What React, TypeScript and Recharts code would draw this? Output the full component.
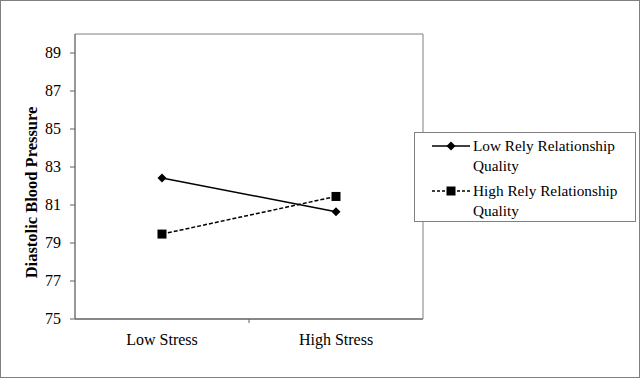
import React from 'react';
import { LineChart, Line, XAxis, YAxis, Legend } from 'recharts';

const categories = ['Low Stress', 'High Stress'];
const lowRely = [82.42, 80.65];
const highRely = [79.47, 81.45];
const yTicks = [75, 77, 79, 81, 83, 85, 87, 89];
const seriesOrder = ['lowRely', 'highRely'];

const data = categories.map((stress, i) => ({ stress, lowRely: lowRely[i], highRely: highRely[i] }));

const FONT = '"Liberation Serif", "Times New Roman", serif';
const AXIS = '#606060';
const textStyle = { fontFamily: FONT, fontSize: 16, fill: '#000' };

function Diamond({ cx, cy }: any) {
  if (cx == null || cy == null) return null;
  const r = 4.5;
  return <path d={`M${cx},${cy - r}L${cx + r},${cy}L${cx},${cy + r}L${cx - r},${cy}Z`} fill="#000" />;
}

function Square({ cx, cy }: any) {
  if (cx == null || cy == null) return null;
  const s = 9;
  return <rect x={cx - s / 2} y={cy - s / 2} width={s} height={s} fill="#000" />;
}

// category label plus a tick mark at the band edge, like the original
function CatTick(props: any) {
  const { x, y, payload, index } = props;
  const half = payload && payload.offset ? payload.offset : 87;
  return (
    <g>
      {index === 0 && <line x1={x + half} y1={y} x2={x + half} y2={y + 4} stroke={AXIS} />}
      <text x={x} y={y + 26} textAnchor="middle" style={textStyle}>
        {payload.value}
      </text>
    </g>
  );
}

function ValTick(props: any) {
  const { x, y, payload } = props;
  return (
    <text x={x} y={y + 5} textAnchor="end" style={textStyle}>
      {payload.value}
    </text>
  );
}

function YTitle({ viewBox }: any) {
  if (!viewBox) return null;
  const cx = viewBox.x + 31;
  const cy = viewBox.y + viewBox.height / 2 + 16;
  return (
    <text
      x={cx}
      y={cy}
      transform={`rotate(-90, ${cx}, ${cy})`}
      textAnchor="middle"
      dominantBaseline="central"
      style={{ fontFamily: FONT, fontSize: 16.5, fontWeight: 'bold', fill: '#000' }}
    >
      Diastolic Blood Pressure
    </text>
  );
}

function LegendBox({ payload }: any) {
  const items = [...(payload || [])].sort(
    (a: any, b: any) => seriesOrder.indexOf(a.dataKey) - seriesOrder.indexOf(b.dataKey)
  );
  return (
    <div
      style={{
        border: '1px solid #808080',
        background: '#fff',
        width: 222,
        height: 90,
        boxSizing: 'border-box',
        padding: '3px 0 0 17px',
        fontFamily: FONT,
        fontSize: 15.3,
        color: '#000',
        lineHeight: '20px',
      }}
    >
      {items.map((p: any) => {
        const dashed = p.dataKey === 'highRely';
        return (
          <div key={p.value} style={{ display: 'flex', alignItems: 'flex-start', marginBottom: 5 }}>
            <svg width={40} height={20} style={{ flexShrink: 0 }}>
              <line x1={0} y1={10} x2={38} y2={10} stroke="#000" strokeWidth={1.3} strokeDasharray={dashed ? '3 2' : undefined} />
              {dashed ? <Square cx={19} cy={10} /> : <Diamond cx={19} cy={10} />}
            </svg>
            <span style={{ marginLeft: 1 }}>{p.value}</span>
          </div>
        );
      })}
    </div>
  );
}

export default function App() {
  return (
    <div style={{ position: 'relative', width: 640, height: 378, background: '#fff' }}>
      <style>{`body{margin:0}`}</style>
      <LineChart width={640} height={378} data={data} margin={{ top: 33, right: 216, bottom: 29, left: 0 }}>
        <XAxis
          dataKey="stress"
          scale="band"
          height={30}
          tickLine={false}
          tickSize={0}
          tickMargin={0}
          axisLine={{ stroke: AXIS, strokeWidth: 1.3 }}
          tick={<CatTick />}
          interval={0}
        />
        <XAxis
          xAxisId="top"
          orientation="top"
          dataKey="stress"
          scale="band"
          height={1}
          tick={false}
          tickLine={false}
          axisLine={{ stroke: '#808080' }}
        />
        <YAxis
          domain={[75, 90]}
          ticks={yTicks}
          width={75}
          tickSize={5}
          tickMargin={9}
          axisLine={{ stroke: AXIS, strokeWidth: 1.3 }}
          tickLine={{ stroke: AXIS }}
          tick={<ValTick />}
          interval={0}
          label={<YTitle />}
        />
        <YAxis yAxisId="right" orientation="right" domain={[75, 90]} width={1} tick={false} tickLine={false} axisLine={{ stroke: '#808080' }} />
        <Line
          dataKey="lowRely"
          name="Low Rely Relationship Quality"
          stroke="#000"
          strokeWidth={1.5}
          dot={<Diamond />}
          activeDot={false}
          isAnimationActive={false}
        />
        <Line
          dataKey="highRely"
          name="High Rely Relationship Quality"
          stroke="#000"
          strokeWidth={1.5}
          strokeDasharray="4 2"
          dot={<Square />}
          activeDot={false}
          isAnimationActive={false}
        />
        <Legend
          layout="horizontal"
          align="center"
          verticalAlign="middle"
          width={222}
          content={<LegendBox />}
          wrapperStyle={{ left: 414, top: 132, width: 222, height: 90 }}
        />
      </LineChart>
      <div
        style={{
          position: 'absolute',
          left: 0,
          top: 0,
          width: 640,
          height: 378,
          boxSizing: 'border-box',
          border: '1px solid #808080',
          pointerEvents: 'none',
        }}
      />
    </div>
  );
}
